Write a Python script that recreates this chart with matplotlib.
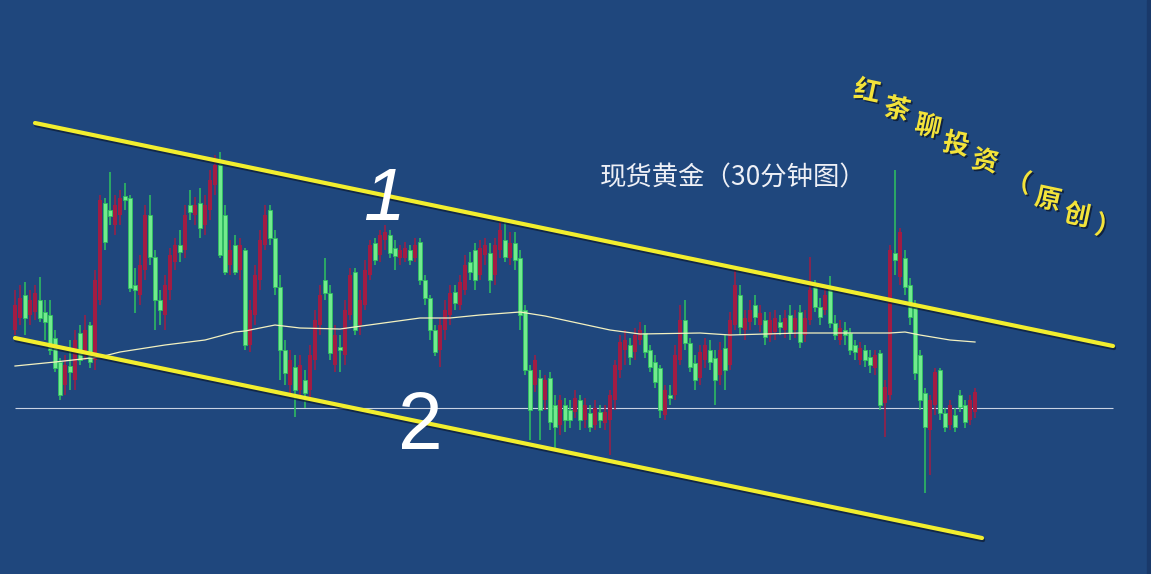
import matplotlib
matplotlib.use("Agg")
import matplotlib.pyplot as plt
import matplotlib.patheffects as pe
from matplotlib.patches import Rectangle

# ---------------- data (price units) ----------------
opens = [270, 282, 305, 285, 288, 300, 288, 285, 262, 238, 215, 234, 220, 267, 245, 275, 240, 300, 397, 390,
         375, 385, 404, 402, 315, 305, 330, 385, 343, 300, 285, 310, 338, 355, 350, 395, 385, 397, 375, 390,
         415, 435, 385, 335, 355, 330, 350, 255, 285, 320, 355, 390, 362, 313, 250, 215, 233, 210, 220, 210,
         240, 275, 320, 307, 235, 253, 245, 285, 328, 275, 295, 325, 357, 345, 360, 365, 352, 342, 342, 350,
         342, 358, 320, 302, 270, 250, 270, 285, 308, 295, 310, 338, 350, 325, 345, 347, 325, 350, 360, 342,
         357, 342, 290, 230, 215, 222, 200, 222, 195, 175, 195, 190, 188, 200, 180, 187, 175, 188, 177, 180,
         200, 230, 250, 255, 248, 260, 267, 250, 238, 232, 185, 205, 205, 240, 280, 257, 237, 222, 240, 250,
         242, 225, 252, 235, 275, 305, 270, 278, 295, 275, 280, 265, 268, 278, 270, 285, 270, 288, 265, 280,
         313, 293, 290, 312, 277, 260, 270, 267, 255, 240, 250, 243, 232, 247, 197, 205, 347, 323, 342, 315,
         293, 245, 207, 170, 195, 230, 187, 175, 185, 205, 195, 180, 188]
highs = [310, 315, 318, 310, 315, 323, 300, 300, 270, 242, 245, 260, 270, 275, 285, 278, 330, 405, 402, 428,
         405, 410, 417, 405, 332, 345, 395, 405, 350, 310, 325, 352, 362, 370, 395, 410, 403, 412, 405, 430,
         445, 448, 395, 360, 365, 362, 352, 300, 335, 370, 395, 395, 370, 325, 260, 250, 245, 245, 230, 255,
         290, 315, 342, 315, 275, 265, 300, 332, 332, 310, 340, 360, 362, 370, 375, 370, 360, 355, 358, 355,
         362, 362, 325, 305, 275, 282, 300, 315, 315, 325, 345, 348, 357, 360, 362, 357, 362, 378, 378, 368,
         368, 350, 295, 235, 245, 230, 225, 228, 205, 205, 202, 200, 210, 205, 202, 195, 200, 195, 195, 210,
         240, 265, 270, 262, 272, 278, 275, 255, 245, 235, 215, 215, 255, 295, 300, 262, 245, 255, 262, 260,
         250, 258, 265, 288, 332, 315, 290, 300, 305, 295, 288, 288, 290, 285, 290, 295, 290, 295, 290, 343,
         320, 302, 312, 324, 285, 280, 278, 272, 260, 258, 255, 250, 250, 250, 220, 355, 430, 372, 350, 322,
         300, 250, 212, 205, 232, 232, 192, 200, 192, 210, 200, 205, 212]
lows = [265, 275, 265, 275, 280, 278, 260, 245, 228, 200, 205, 210, 210, 235, 240, 232, 230, 295, 350, 375,
        365, 375, 390, 308, 287, 295, 320, 335, 270, 275, 270, 300, 330, 338, 342, 380, 375, 362, 365, 380,
        405, 342, 325, 325, 325, 320, 250, 248, 275, 310, 350, 355, 305, 220, 215, 205, 183, 200, 192, 200,
        230, 265, 300, 240, 228, 228, 235, 280, 265, 265, 290, 320, 335, 338, 350, 342, 330, 335, 338, 335,
        338, 315, 295, 260, 244, 233, 260, 275, 290, 290, 305, 320, 310, 320, 335, 307, 315, 342, 338, 335,
        330, 270, 225, 160, 208, 160, 190, 170, 150, 165, 168, 172, 182, 170, 172, 168, 170, 172, 170, 145,
        190, 222, 235, 235, 240, 255, 242, 228, 212, 182, 180, 195, 200, 235, 250, 228, 210, 215, 232, 230,
        195, 215, 210, 230, 270, 265, 260, 270, 275, 268, 255, 258, 260, 265, 262, 260, 262, 252, 258, 275,
        288, 275, 285, 272, 260, 255, 255, 245, 240, 235, 233, 227, 225, 190, 163, 200, 325, 315, 305, 275,
        220, 190, 107, 125, 185, 180, 168, 170, 168, 188, 172, 175, 182]
closes = [295, 302, 282, 300, 307, 282, 278, 250, 232, 205, 235, 228, 260, 240, 270, 238, 320, 400, 358, 384,
          395, 402, 400, 312, 310, 335, 385, 343, 300, 290, 315, 345, 355, 348, 385, 388, 395, 372, 395, 420,
          435, 345, 328, 350, 328, 355, 255, 290, 325, 360, 385, 362, 313, 250, 227, 240, 210, 235, 207, 245,
          280, 305, 307, 247, 265, 250, 290, 325, 270, 300, 330, 355, 340, 365, 368, 347, 344, 350, 352, 340,
          355, 320, 302, 270, 248, 275, 290, 307, 297, 318, 335, 328, 320, 352, 355, 320, 355, 370, 343, 357,
          340, 285, 230, 190, 240, 190, 220, 178, 173, 200, 180, 180, 202, 180, 195, 173, 192, 180, 188, 205,
          235, 258, 260, 243, 265, 270, 248, 233, 218, 190, 210, 202, 245, 280, 257, 233, 220, 248, 255, 238,
          220, 250, 230, 280, 315, 273, 282, 290, 283, 287, 263, 280, 282, 273, 282, 267, 282, 258, 282, 310,
          293, 283, 305, 277, 265, 272, 265, 250, 248, 252, 240, 235, 245, 195, 213, 350, 340, 368, 313, 283,
          227, 200, 173, 200, 228, 187, 173, 195, 173, 193, 178, 200, 208]

# moving-average line (candle index, price)
ma_idx = [0, 8, 17, 21, 30, 38, 44, 46, 52, 57, 65, 81, 87, 93, 101, 106, 119, 125, 137, 143,
          157, 165, 175, 178, 181, 187, 192]
ma_val = [234, 238, 243, 248, 255, 260, 268, 269, 275, 272, 271, 282, 282, 285, 288, 284, 270, 266, 267, 265,
          267, 267, 267, 268, 265, 260, 258]

# channel lines and horizontal support (candle index, price)
upper_x = [4, 219.6]
upper_y = [477, 254]
lower_x = [0, 193.4]
lower_y = [262, 62]
support_level = 192
support_x = [0, 219.6]

title = "现货黄金（30分钟图）"
mark_chars = ["红", "茶", "聊", "投", "资", "（", "原", "创", "）"]

# ---------------- drawing ----------------
BG = "#1f477d"
RED = "#a21c43"
GREEN_EDGE = "#2fc35e"
GREEN_FACE = "#72ea8e"

fig = plt.figure(figsize=(11.51, 5.74), dpi=100)
fig.patch.set_facecolor(BG)
ax = fig.add_axes([0, 0, 1, 1])
ax.set_facecolor(BG)
ax.set_xlim(-3, 227.2)
ax.set_ylim(26, 600)
ax.axis("off")

# slightly darker strip at the right edge of the screenshot
fig.patches.append(Rectangle((1147 / 1151, 0), 4 / 1151, 1, transform=fig.transFigure,
                             color="#19396a", zorder=0))


def px(x, y):
    """convert a picture pixel position to data coordinates (for text placement)"""
    return (x - 15) / 5.0, 600 - y


# support line
ax.hlines(support_level, support_x[0], support_x[1], color="#c9d2e2", lw=0.8, zorder=1)

# candles
for i, (o, h, l, c) in enumerate(zip(opens, highs, lows, closes)):
    up = c >= o
    if up:
        ax.vlines(i, l, h, color=RED, lw=1.1, zorder=2)
        ax.bar(i, max(c - o, 1.5), bottom=o, width=0.72, color=RED, lw=0, zorder=3)
    else:
        ax.vlines(i, l, h, color=GREEN_EDGE, lw=1.1, zorder=2)
        ax.bar(i, max(o - c, 1.5), bottom=c, width=0.72, color=GREEN_FACE,
               edgecolor=GREEN_EDGE, lw=0.6, zorder=3)

# moving average
ax.plot(ma_idx, ma_val, color="#f3f1c0", lw=0.9, zorder=4)

# channel lines with a soft shadow
shadow = [pe.SimpleLineShadow(offset=(0.8, -1.5), shadow_color="#0c1a30", alpha=0.7), pe.Normal()]
ax.plot(upper_x, upper_y, color="#f2ee2e", lw=3.0, solid_capstyle="round", zorder=5, path_effects=shadow)
ax.plot(lower_x, lower_y, color="#f2ee2e", lw=3.0, solid_capstyle="round", zorder=5, path_effects=shadow)

# handwritten markers
ax.text(*px(384, 200), "1", color="white", fontsize=54, ha="center", va="center",
        fontstyle="italic", family="Liberation Sans", zorder=6)
ax.text(*px(420, 428), "2", color="white", fontsize=58, ha="center", va="center",
        family="Liberation Sans", zorder=6)

# title
ax.text(*px(733, 178), title, color="#eef0f6", fontsize=19, ha="center", va="center",
        family=["Noto Sans CJK SC", "DejaVu Sans"], zorder=6)

# diagonal watermark
mark_pos = [(867, 92), (897, 110), (928, 127), (956, 145), (985, 162),
            (1018, 183), (1048, 200), (1077, 216), (1108, 228)]
for ch, (x, y) in zip(mark_chars, mark_pos):
    ax.text(*px(x, y), ch, color="#f3e33a", fontsize=19, fontweight="bold", ha="center", va="center",
            rotation=-12, family=["Noto Sans CJK SC", "DejaVu Sans"], zorder=6,
            path_effects=[pe.withSimplePatchShadow(offset=(1.2, -1.2), shadow_rgbFace="#0b1930", alpha=0.8)])

fig.savefig("out.png", dpi=100, facecolor=BG)
